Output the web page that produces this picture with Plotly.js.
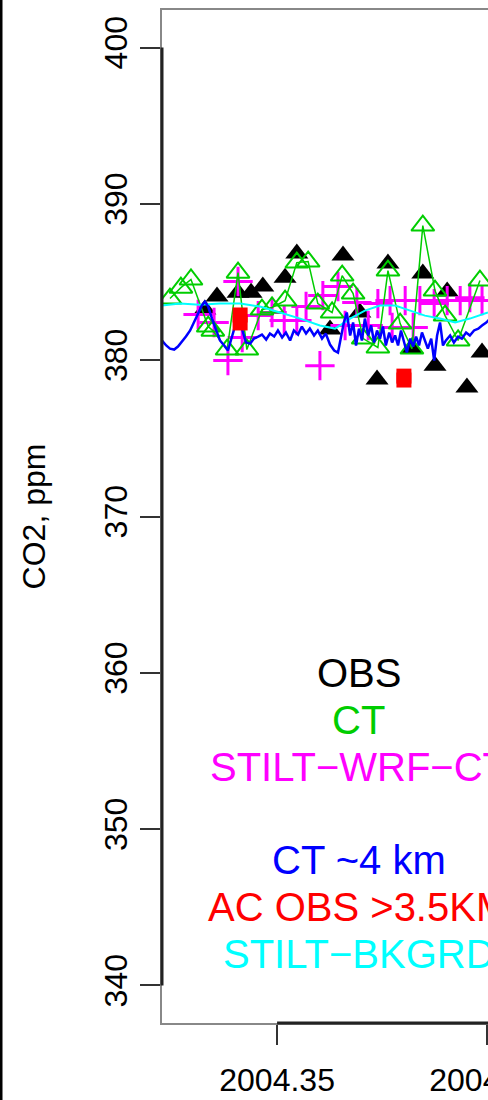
<!DOCTYPE html>
<html>
<head>
<meta charset="utf-8">
<script src="https://cdn.plot.ly/plotly-3.0.1.min.js"></script>
<style>
  html, body { margin: 0; padding: 0; overflow: hidden; background: #fff; width: 488px; height: 1100px; }
  #chart { width: 620px; height: 1100px; }
</style>
</head>
<body>
<div id="chart"></div>
<script>
// Flask observations (black filled triangles)
const obsYear = [2004.3328, 2004.3357, 2004.3407, 2004.3438, 2004.3466, 2004.3519, 2004.3547, 2004.3626, 2004.3657,
                 2004.3697, 2004.3738, 2004.3764, 2004.3821, 2004.3847, 2004.3876, 2004.3905, 2004.3952, 2004.3988];
const obsCO2  = [383.24, 384.07, 384.32, 384.32, 384.71, 385.28, 386.82, 381.96, 386.69,
                 383.05, 378.76, 386.18, 380.74, 385.54, 379.65, 384.39, 378.25, 380.49];

// CarbonTracker sampled at the observations (green open triangles)
const ctYear = [2004.3245, 2004.3271, 2004.3295, 2004.3336, 2004.3347, 2004.3381, 2004.3407, 2004.3428, 2004.3464,
                2004.3488, 2004.3519, 2004.3547, 2004.3574, 2004.3597, 2004.3631, 2004.3655, 2004.3681, 2004.3705,
                2004.3740, 2004.3764, 2004.3793, 2004.3821, 2004.3847, 2004.3876, 2004.3900, 2004.3931, 2004.3983];
const ctCO2  = [383.94, 384.64, 385.16, 382.15, 381.89, 380.68, 385.60, 380.68, 383.24,
                383.37, 383.81, 386.24, 386.31, 383.62, 383.05, 385.41, 384.26, 381.38,
                380.81, 385.73, 382.34, 380.74, 388.61, 384.45, 382.85, 381.26, 385.09];

// STILT-WRF-CT receptor values (magenta crosses)
const stiltYear = [2004.3312, 2004.3350, 2004.3383, 2004.3407, 2004.3417, 2004.3455, 2004.3488, 2004.3517, 2004.3547,
                   2004.3569, 2004.3602, 2004.3609, 2004.3645, 2004.3662, 2004.3690, 2004.3717, 2004.3740, 2004.3769,
                   2004.3774, 2004.3805, 2004.3824, 2004.3840, 2004.3874, 2004.3905, 2004.3936, 2004.3959, 2004.3988];
const stiltCO2  = [382.92, 382.41, 379.98, 385.03, 381.45, 382.85, 383.05, 382.53, 382.53,
                   383.43, 379.65, 384.13, 384.71, 382.22, 383.69, 382.22, 383.62, 383.81,
                   382.09, 383.81, 382.09, 383.81, 383.62, 383.81, 383.81, 384.00, 383.81];

// CarbonTracker time series at ~4 km (blue line)
const ct4kmYear = [2004.3226, 2004.3236, 2004.3245, 2004.3255, 2004.3264, 2004.3274, 2004.3283, 2004.3293, 2004.3302,
                   2004.3312, 2004.3321, 2004.3328, 2004.3336, 2004.3345, 2004.3355, 2004.3364, 2004.3374, 2004.3383,
                   2004.3390, 2004.3397, 2004.3405, 2004.3412, 2004.3419, 2004.3426, 2004.3436, 2004.3445, 2004.3455,
                   2004.3464, 2004.3474, 2004.3483, 2004.3493, 2004.3502, 2004.3512, 2004.3521, 2004.3531, 2004.3540,
                   2004.3550, 2004.3559, 2004.3569, 2004.3578, 2004.3588, 2004.3597, 2004.3607, 2004.3616, 2004.3626,
                   2004.3636, 2004.3645, 2004.3652, 2004.3659, 2004.3666, 2004.3674, 2004.3681, 2004.3688, 2004.3695,
                   2004.3702, 2004.3709, 2004.3717, 2004.3724, 2004.3731, 2004.3738, 2004.3745, 2004.3752, 2004.3759,
                   2004.3767, 2004.3774, 2004.3781, 2004.3788, 2004.3795, 2004.3802, 2004.3809, 2004.3817, 2004.3824,
                   2004.3831, 2004.3838, 2004.3845, 2004.3852, 2004.3859, 2004.3867, 2004.3874, 2004.3881, 2004.3888,
                   2004.3895, 2004.3902, 2004.3912, 2004.3921, 2004.3931, 2004.3940, 2004.3950, 2004.3959, 2004.3969,
                   2004.3979, 2004.3988, 2004.3998, 2004.4007];
const ct4kmCO2  = [381.26, 380.94, 380.74, 380.68, 380.87, 381.19, 381.51, 381.90, 382.41,
                   383.05, 383.50, 383.75, 383.43, 382.66, 381.90, 381.26, 380.94, 380.62,
                   381.26, 381.90, 382.66, 382.41, 381.77, 381.13, 381.06, 381.38, 381.51,
                   381.64, 381.32, 381.70, 381.51, 381.90, 381.45, 381.77, 381.26, 381.90,
                   381.64, 382.15, 381.70, 382.02, 381.58, 381.90, 381.38, 381.70, 381.00,
                   380.62, 380.49, 381.51, 382.41, 383.05, 381.58, 382.41, 380.94, 382.02,
                   381.26, 382.66, 381.58, 382.22, 381.13, 381.90, 381.38, 382.15, 380.94,
                   381.77, 381.13, 381.58, 380.94, 381.90, 381.26, 380.49, 381.38, 380.87,
                   381.51, 380.94, 381.77, 381.26, 380.74, 381.38, 379.98, 381.58, 382.41,
                   380.94, 381.26, 381.58, 381.13, 381.51, 381.38, 381.77, 381.58, 381.90,
                   382.02, 382.22, 382.41, 382.66];

// Aircraft observations above 3.5 km (red filled squares)
const acYear = [2004.3412, 2004.3412, 2004.3802, 2004.3802];
const acCO2  = [382.89, 382.38, 378.98, 378.73];

// STILT background (cyan line)
const bkgYear = [2004.3226, 2004.3269, 2004.3316, 2004.3364, 2004.3412, 2004.3459, 2004.3507, 2004.3555, 2004.3602,
                 2004.3638, 2004.3674, 2004.3709, 2004.3745, 2004.3781, 2004.3817, 2004.3852, 2004.3888, 2004.3924,
                 2004.3959, 2004.4002];
const bkgCO2  = [383.49, 383.62, 383.55, 383.62, 383.62, 383.43, 383.05, 382.66, 382.22,
                 382.02, 382.66, 383.17, 383.49, 383.49, 383.17, 382.85, 382.66, 382.41,
                 382.66, 383.05];

// Axis ticks
const yTicks = [340, 350, 360, 370, 380, 390, 400];
const xTicks = [2004.35, 2004.40, 2004.45];
const xTickText = ['2004.35', '2004.40', '2004.45'];

// Legend text, one line each (blank line separates the two groups)
const legendLabels = ['OBS', 'CT', 'STILT\u2212WRF\u2212CT', '', 'CT ~4 km', 'AC OBS >3.5KM', 'STILT\u2212BKGRD'];

const COL = { obs: '#000000', ct: '#00CD00', stilt: '#FF00FF', ct4: '#0000FF', ac: '#FF0000', bkg: '#00FFFF' };
const legendColors = [COL.obs, COL.ct, COL.stilt, null, COL.ct4, COL.ac, COL.bkg];

const W = 620, H = 1100;
const M = { l: 162, r: 0, t: 10, b: 77 };
const PX_PER_YEAR = 4200;
const xStart = 2004.3226;
const xEnd = xStart + (W - M.l - M.r) / PX_PER_YEAR;
const yRange = [337.6, 402.4];

const FONT = 'Liberation Sans, Arial, Helvetica, sans-serif';

const traces = [
  { x: obsYear, y: obsCO2, mode: 'markers', type: 'scatter',
    marker: { symbol: 'triangle-up', size: 20, color: COL.obs } },
  { x: stiltYear, y: stiltCO2, mode: 'markers', type: 'scatter',
    marker: { symbol: 'cross-thin-open', size: 21, color: COL.stilt, line: { color: COL.stilt, width: 3 } } },
  { x: ctYear, y: ctCO2, mode: 'lines+markers', type: 'scatter',
    line: { color: COL.ct, width: 1.5 },
    marker: { symbol: 'triangle-up-open', size: 20, color: COL.ct, line: { color: COL.ct, width: 2 } } },
  { x: bkgYear, y: bkgCO2, mode: 'lines', type: 'scatter',
    line: { color: COL.bkg, width: 2 } },
  { x: ct4kmYear, y: ct4kmCO2, mode: 'lines', type: 'scatter',
    line: { color: COL.ct4, width: 2.5 } },
  { x: acYear, y: acCO2, mode: 'markers', type: 'scatter',
    marker: { symbol: 'square', size: 15, color: COL.ac } }
];

// Legend block: centred text lines stepping down from the 360 ppm level
const legendX = 2004.3695, legendTop = 360, legendStep = 3;
const annotations = legendLabels.map((t, i) => t === '' ? null : ({
  x: legendX, y: legendTop - i * legendStep, xref: 'x', yref: 'y',
  text: t, showarrow: false, xanchor: 'center', yanchor: 'middle',
  font: { family: FONT, size: 40, color: legendColors[i] }
})).filter(Boolean);

const layout = {
  width: W, height: H, margin: M,
  paper_bgcolor: '#ffffff', plot_bgcolor: '#ffffff',
  showlegend: false,
  font: { family: FONT, color: '#000000', size: 32 },
  xaxis: {
    range: [xStart, xEnd], tickvals: xTicks, ticktext: xTickText,
    ticks: 'outside', ticklen: 20, tickwidth: 2, tickcolor: '#333', ticklabelstandoff: 8,
    showgrid: false, zeroline: false, showline: true, linecolor: '#888', linewidth: 2, mirror: true,
    tickfont: { family: FONT, size: 32, color: '#000' }
  },
  yaxis: {
    range: yRange, tickvals: yTicks, tickangle: -90,
    ticks: 'outside', ticklen: 20, tickwidth: 2, tickcolor: '#333',
    showgrid: false, zeroline: false, showline: true, linecolor: '#888', linewidth: 2, mirror: true,
    tickfont: { family: FONT, size: 32, color: '#000' },
    title: { text: 'CO2, ppm', font: { family: FONT, size: 32, color: '#000' }, standoff: 43 }
  },
  shapes: [
    // axis lines spanning the labelled tick range
    { type: 'line', xref: 'paper', yref: 'y', x0: 0, x1: 0, y0: 340, y1: 400, line: { color: '#222', width: 3 } },
    { type: 'line', xref: 'x', yref: 'paper', x0: 2004.35, x1: 2004.45, y0: 0, y1: 0, line: { color: '#222', width: 3 } },
    // dark frame along the left edge of the image
    { type: 'line', xref: 'paper', yref: 'paper', x0: -M.l / (W - M.l) + 1 / (W - M.l), x1: -M.l / (W - M.l) + 1 / (W - M.l),
      y0: -M.b / (H - M.t - M.b), y1: 1 + M.t / (H - M.t - M.b), line: { color: '#000', width: 3 } }
  ],
  annotations: annotations
};

Plotly.newPlot('chart', traces, layout, { displayModeBar: false, staticPlot: true });
</script>
</body>
</html>
